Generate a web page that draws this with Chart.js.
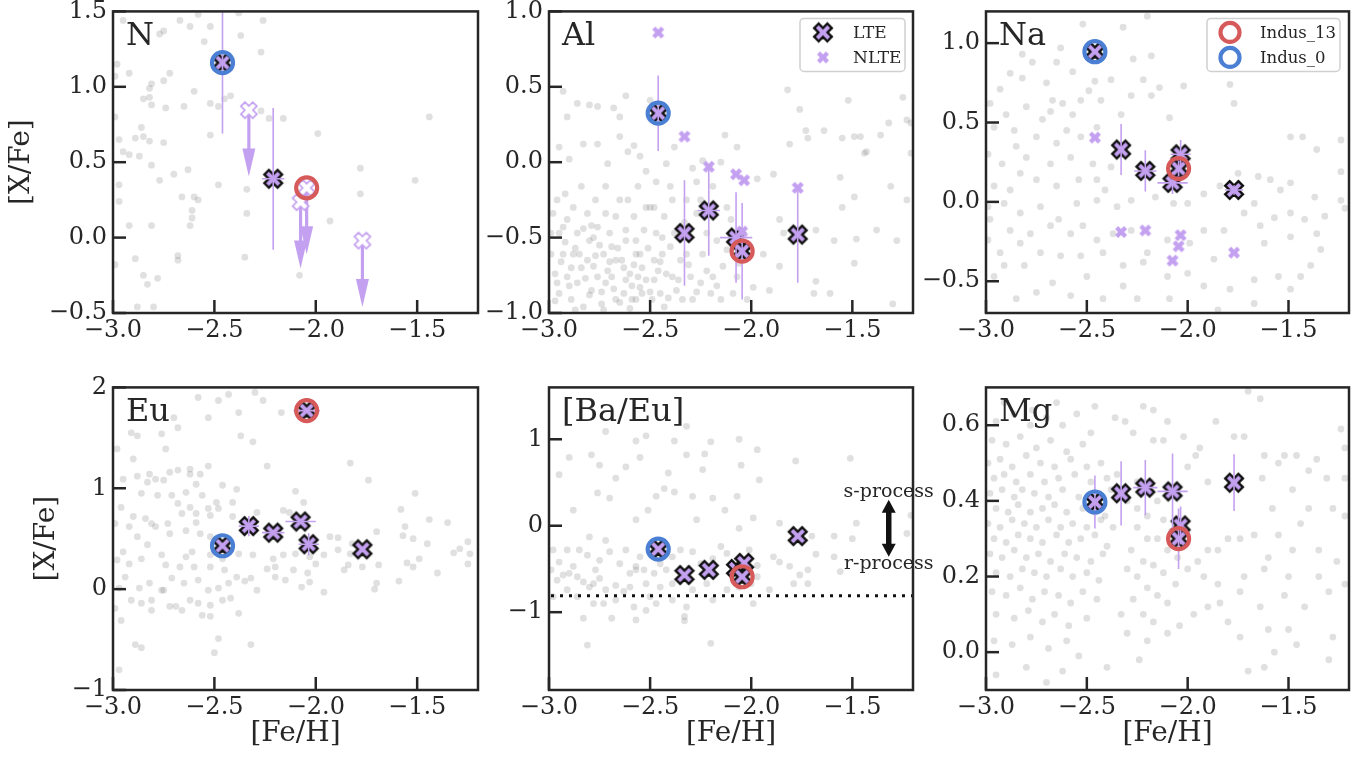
<!DOCTYPE html>
<html><head><meta charset="utf-8">
<script src="https://cdn.jsdelivr.net/npm/chart.js"></script>
<style>
html,body{margin:0;padding:0;background:#fff;width:1367px;height:759px;overflow:hidden;position:relative}
canvas{position:absolute}
</style></head><body>
<script>
// ---------------- DATA ----------------
const xTicks = [-3.0, -2.5, -2.0, -1.5];
const xTickLabels = ['\u22123.0', '\u22122.5', '\u22122.0', '\u22121.5'];

// program stars: Indus_0, S2, S3, S4, S5, Indus_13, S7
const starFeH = [-2.46, -2.33, -2.21, -2.075, -2.035, -2.045, -1.77];
const idxIndus0 = 0, idxIndus13 = 5;

// N
const N_lte  = [1.16, null, 0.39, null, null, null, null];
const N_ul   = [null, 0.845, null, 0.235, null, 0.33, -0.02];
const N_yerr = [0.47, 0, 0.47, 0, 0, 0, 0];
const N_xerr = [0, 0, 0.055, 0, 0, 0, 0];
const N_yTicks = [-0.5, 0, 0.5, 1.0, 1.5];
const N_yTickLabels = ['\u22120.5', '0.0', '0.5', '1.0', '1.5'];

// Al
const Al_lte  = [0.325, -0.47, -0.32, -0.50, null, -0.59, -0.48];
const Al_nlte = [0.86, 0.17, -0.03, -0.08, -0.12, -0.46, -0.17];
const Al_yerr = [0.25, 0.35, 0.30, 0.30, 0, 0.32, 0.32];
const Al_xerr = [0, 0, 0.055, 0.08, 0, 0, 0];
const Al_yTicks = [-1.0, -0.5, 0, 0.5, 1.0];
const Al_yTickLabels = ['\u22121.0', '\u22120.5', '0.0', '0.5', '1.0'];

// Na
const Na_lte  = [0.946, 0.33, 0.195, 0.12, 0.30, 0.21, 0.075];
const Na_nlte = [0.405, -0.19, -0.18, -0.37, -0.21, -0.28, -0.32];
const Na_yerr = [0, 0.16, 0.13, 0.07, 0.09, 0.05, 0.03];
const Na_xerr = [0, 0, 0.055, 0.075, 0.05, 0, 0.045];
const Na_yTicks = [-0.5, 0, 0.5, 1.0];
const Na_yTickLabels = ['\u22120.5', '0.0', '0.5', '1.0'];

// Eu
const Eu_lte  = [0.43, 0.625, 0.56, 0.67, 0.445, 1.77, 0.395];
const Eu_yerr = [0, 0.10, 0, 0, 0.11, 0, 0];
const Eu_xerr = [0, 0.05, 0.055, 0.075, 0.05, 0.065, 0];
const Eu_yTicks = [-1, 0, 1, 2];
const Eu_yTickLabels = ['\u22121', '0', '1', '2'];

// [Ba/Eu]
const BaEu_lte  = [-0.27, -0.57, -0.51, -0.50, -0.43, -0.59, -0.12];
const BaEu_yTicks = [-1, 0, 1];
const BaEu_yTickLabels = ['\u22121', '0', '1'];
const BaEu_rLimit = -0.81;
const BaEu_arrowX = -1.32, BaEu_arrowTop = 0.30, BaEu_arrowBottom = -0.36;
const BaEu_sText = 0.39, BaEu_rText = -0.44;

// Mg
const Mg_lte  = [0.397, 0.42, 0.435, 0.425, 0.335, 0.30, 0.448];
const Mg_yerr = [0.07, 0.085, 0.073, 0.10, 0.05, 0.08, 0.075];
const Mg_xerr = [0, 0, 0.06, 0.075, 0, 0, 0];
const Mg_yTicks = [0.0, 0.2, 0.4, 0.6];
const Mg_yTickLabels = ['0.0', '0.2', '0.4', '0.6'];

// background (literature) stars, [Fe/H], [X/Fe]
const N_bg = [[-2.95,1.44],[-2.67,1.44],[-2.62,1.40],[-2.58,1.48],[-2.52,1.40],[-2.38,1.49],[-2.26,1.44],[-2.77,1.35],[-2.75,1.37],[-2.37,1.34],[-2.55,1.30],[-2.27,1.23],[-2.98,1.15],[-2.92,1.09],[-2.72,1.09],[-2.99,1.07],[-2.75,1.04],[-2.81,1.02],[-2.82,0.99],[-2.60,0.97],[-2.85,0.92],[-2.82,0.93],[-2.45,0.92],[-2.42,0.94],[-2.81,0.88],[-2.74,0.86],[-2.65,0.87],[-2.52,0.89],[-2.48,0.87],[-2.27,0.84],[-2.99,0.80],[-2.23,0.79],[-2.16,0.79],[-1.44,0.80],[-2.86,0.73],[-2.89,0.66],[-2.85,0.67],[-2.82,0.64],[-2.75,0.63],[-2.52,0.68],[-1.99,0.69],[-2.97,0.65],[-2.95,0.57],[-2.92,0.55],[-2.87,0.54],[-2.81,0.48],[-2.70,0.42],[-2.63,0.45],[-2.77,0.38],[-2.97,0.35],[-2.48,0.35],[-2.34,0.32],[-1.78,0.46],[-1.51,0.38],[-1.78,0.29],[-2.66,0.27],[-2.60,0.27],[-2.58,0.25],[-2.97,0.24],[-2.61,0.18],[-2.61,0.13],[-2.34,0.16],[-1.93,0.11],[-2.92,0.08],[-2.81,0.08],[-2.62,0.08],[-2.89,-0.14],[-2.68,-0.12],[-2.68,-0.15],[-2.35,-0.13],[-2.99,-0.18],[-2.85,-0.25],[-2.83,-0.31],[-2.78,-0.27],[-2.08,-0.25],[-2.88,-0.46],[-2.80,-0.46]];

const Al_bg = [[-2.93,0.47],[-2.91,0.30],[-2.86,0.39],[-2.80,0.38],[-2.76,0.37],[-2.68,0.36],[-2.65,0.30],[-2.62,0.44],[-2.50,0.41],[-2.90,0.02],[-2.95,0.10],[-2.83,0.12],[-2.76,0.12],[-2.71,-0.01],[-2.65,0.17],[-2.61,0.07],[-2.58,0.11],[-2.55,0.04],[-2.52,-0.06],[-2.47,-0.13],[-2.42,-0.01],[-2.38,0.10],[-2.29,-0.04],[-2.27,-0.13],[-2.24,0.01],[-2.15,0.00],[-2.13,0.18],[-2.07,0.10],[-1.97,-0.11],[-1.89,-0.08],[-1.82,0.48],[-1.76,0.35],[-1.73,0.21],[-1.72,0.16],[-1.81,0.12],[-1.64,0.21],[-1.55,0.16],[-1.52,0.41],[-1.49,0.17],[-1.46,0.17],[-1.44,0.06],[-1.43,0.07],[-1.36,0.18],[-1.32,0.26],[-1.25,0.43],[-1.23,0.28],[-1.21,0.26],[-1.21,0.06],[-1.56,-0.10],[-1.49,-0.23],[-1.55,-0.30],[-1.31,-0.16],[-1.23,-0.25],[-1.86,-0.38],[-1.84,-0.47],[-1.68,-0.45],[-1.59,-0.52],[-1.48,-0.51],[-1.38,-0.45],[-1.28,-0.52],[-1.49,-0.67],[-1.68,-0.79],[-1.69,-0.87],[-1.61,-0.87],[-1.30,-0.94],[-1.91,-0.85],[-1.99,-0.83],[-1.86,-0.69],[-1.94,-0.61],
[-2.98,-0.34],[-2.95,-0.47],[-2.91,-0.38],[-2.88,-0.30],[-2.86,-0.47],[-2.85,-0.61],[-2.81,-0.34],[-2.80,-0.52],[-2.78,-0.69],[-2.76,-0.43],[-2.73,-0.61],[-2.72,-0.80],[-2.70,-0.47],[-2.67,-0.65],[-2.65,-0.25],[-2.63,-0.87],[-2.62,-0.52],[-2.60,-0.74],[-2.58,-0.36],[-2.57,-0.91],[-2.55,-0.61],[-2.53,-0.45],[-2.52,-0.78],[-2.50,-0.30],[-2.48,-0.65],[-2.47,-0.47],[-2.45,-0.87],[-2.43,-0.36],[-2.42,-0.74],[-2.40,-0.56],[-2.39,-0.25],[-2.37,-0.85],[-2.35,-0.65],[-2.34,-0.47],[-2.30,-0.76],[-2.27,-0.34],[-2.24,-0.61],[-2.20,-0.87],[-2.17,-0.52],[-2.14,-0.69],[-2.10,-0.38],[-2.07,-0.76],[-2.99,-0.61],[-2.97,-0.74],[-2.95,-0.87],[-2.93,-0.61],[-2.91,-0.76],[-2.89,-0.91],[-2.88,-0.61],[-2.86,-0.80],[-2.83,-0.96],[-2.81,-0.65],[-2.79,-0.85],[-2.76,-0.76],[-2.74,-0.94],[-2.72,-0.34],[-2.69,-0.76],[-2.67,-0.91],[-2.64,-0.65],[-2.62,-0.45],[-2.59,-0.91],[-2.57,-0.61],[-2.56,-0.76],[-2.54,-0.87],[-2.52,-0.30],[-2.49,-0.91],[-2.48,-0.78],[-2.44,-0.61],[-2.43,-0.96],[-2.39,-0.76],[-2.38,-0.47],[-2.34,-0.91],[-2.32,-0.61],[-2.29,-0.91],[-2.25,-0.80],[-2.22,-0.47],[-2.19,-0.76],[-2.15,-0.91],[-2.12,-0.58],[-2.09,-0.87],[-2.06,-0.67],[-2.02,-0.91],[-2.99,-0.47],[-2.96,-0.25],[-2.92,-0.21],[-2.84,-0.16],[-2.77,-0.25],[-2.72,-0.16],[-2.67,-0.36],[-2.61,-0.25],[-2.56,-0.16],[-2.48,-0.30],[-2.40,-0.16],[-2.32,-0.25],[-2.25,-0.25],[-2.19,-0.16],[-2.12,-0.30],
[-2.94,-0.66],[-2.90,-0.82],[-2.84,-0.70],[-2.80,-0.88],[-2.75,-0.55],[-2.71,-0.72],[-2.68,-0.84],[-2.66,-0.57],[-2.62,-0.78],[-2.58,-0.68],[-2.55,-0.83],[-2.51,-0.57],[-2.46,-0.72],[-2.83,-0.44],[-2.78,-0.50],[-2.92,-0.53],[-2.97,-0.92],[-2.87,-0.98],[-2.73,-0.98],[-2.60,-0.97],
[-2.96,-0.80],[-2.89,-0.70],[-2.82,-0.77],[-2.77,-0.62],[-2.74,-0.86],[-2.70,-0.66],[-2.65,-0.93],[-2.63,-0.70],[-2.59,-0.82],[-2.54,-0.70],[-2.50,-0.86],[-2.45,-0.66],[-2.41,-0.90],[-2.36,-0.78],[-2.31,-0.68],[-2.27,-0.86],[-2.22,-0.72],[-2.17,-0.82],[-2.93,-0.43],[-2.87,-0.57],[-2.79,-0.42],[-2.69,-0.56],[-2.57,-0.52],[-2.44,-0.50],[-2.33,-0.40]];

const Na_bg = [[-2.88,0.81],[-2.82,0.93],[-2.77,0.88],[-2.65,0.88],[-2.63,0.97],[-2.52,1.12],[-2.32,1.10],[-2.20,1.17],[-2.27,0.90],[-2.18,0.92],[-2.93,0.71],[-2.82,0.78],[-2.70,0.75],[-2.57,0.82],[-2.49,0.70],[-2.46,0.76],[-2.38,0.77],[-2.22,0.77],[-2.14,0.72],[-2.02,0.73],[-2.67,0.64],[-2.62,0.62],[-2.53,0.64],[-2.43,0.64],[-2.28,0.67],[-2.18,0.67],[-2.09,0.53],[-2.33,0.55],[-2.45,0.47],[-2.57,0.55],[-2.68,0.57],[-2.80,0.60],[-2.90,0.55],[-2.98,0.62],[-2.96,0.47],[-2.86,0.45],[-2.75,0.41],[-2.65,0.37],[-2.60,0.45],[-2.53,0.41],[-2.72,0.52],[-2.85,0.35],[-2.99,0.30],[-2.92,0.24],[-2.80,0.28],[-2.68,0.24],[-2.58,0.28],[-2.47,0.24],[-2.38,0.22],[-2.41,0.075],[-2.45,0.14],[-2.54,0.14],[-2.65,0.10],[-2.75,0.14],[-2.83,0.18],[-2.88,0.075],[-2.96,0.10],[-2.99,-0.03],[-2.91,-0.01],[-2.83,-0.07],[-2.73,-0.03],[-2.64,-0.11],[-2.55,-0.01],[-2.45,0.01],[-2.35,-0.03],[-2.28,0.01],[-2.16,0.03],[-2.07,-0.01],[-2.00,-0.01],[-1.92,0.05],[-1.84,0.10],[-1.75,0.18],[-1.67,-0.01],[-1.59,0.14],[-1.54,0.075],[-1.49,0.12],[-1.37,0.03],[-1.24,0.19],[-1.24,0.01],[-1.22,-0.04],[-1.32,-0.09],[-1.42,-0.11],[-1.49,-0.07],[-1.57,-0.10],[-1.64,-0.15],[-1.72,-0.07],[-1.82,-0.18],[-1.92,-0.18],[-1.99,-0.26],[-2.10,-0.24],[-2.20,-0.32],[-2.28,-0.18],[-2.37,-0.20],[-2.45,-0.24],[-2.52,-0.15],[-2.58,-0.20],[-2.68,-0.15],[-2.78,-0.20],[-2.88,-0.18],[-2.98,-0.11],[-2.99,-0.24],[-2.93,-0.32],[-2.83,-0.26],[-2.73,-0.32],[-2.63,-0.34],[-2.53,-0.34],[-2.42,-0.32],[-2.32,-0.40],[-2.22,-0.38],[-2.10,-0.47],[-2.00,-0.45],[-1.87,-0.36],[-1.62,-0.26],[-1.49,-0.22],[-1.34,-0.30],[-1.39,-0.40],[-1.55,-0.47],[-1.67,-0.49],[-1.79,-0.55],[-1.92,-0.53],[-2.09,-0.61],[-2.25,-0.61],[-2.42,-0.61],[-2.58,-0.59],[-2.75,-0.57],[-2.85,-0.61],[-2.96,-0.47],[-2.91,-0.40],[-2.81,-0.40],[-2.67,-0.51],[-2.50,-0.47],[-2.32,-0.53],[-1.24,0.39],[-1.49,0.41],[-1.43,0.41],[-1.36,0.33],[-1.79,0.74],[-1.77,0.62],[-1.65,0.16],[-1.36,-0.20],[-1.85,-0.68],[-1.67,-0.64],[-1.49,-0.55],[-1.44,-0.47]];

const Eu_bg = [[-2.58,1.90],[-2.43,1.93],[-2.30,1.95],[-2.26,1.87],[-2.48,1.87],[-2.53,1.70],[-2.38,1.75],[-2.17,1.75],[-2.70,1.70],[-2.68,1.60],[-2.91,1.55],[-2.88,1.52],[-2.76,1.54],[-2.37,1.52],[-2.31,1.46],[-2.98,1.39],[-2.74,1.39],[-2.24,1.22],[-2.53,1.22],[-1.83,1.25],[-2.90,1.29],[-2.72,1.16],[-2.68,1.18],[-2.62,1.19],[-2.62,1.14],[-2.88,1.12],[-2.82,1.14],[-2.79,1.09],[-2.75,1.08],[-2.83,1.06],[-2.59,1.04],[-2.57,1.14],[-2.46,1.03],[-2.39,0.99],[-2.10,0.97],[-1.74,1.08],[-1.51,0.95],[-2.95,1.09],[-2.86,0.95],[-2.78,0.93],[-2.71,0.93],[-2.64,0.96],[-2.56,0.93],[-2.49,0.86],[-2.41,0.86],[-2.68,0.85],[-2.62,0.81],[-2.53,0.80],[-2.48,0.80],[-2.29,0.76],[-2.16,0.78],[-2.13,0.76],[-2.06,0.86],[-2.96,0.81],[-2.90,0.72],[-2.84,0.70],[-2.81,0.65],[-2.73,0.65],[-2.66,0.75],[-2.59,0.75],[-2.52,0.73],[-2.41,0.72],[-2.36,0.65],[-2.99,0.65],[-2.92,0.62],[-2.88,0.52],[-2.79,0.62],[-2.72,0.55],[-2.64,0.58],[-2.57,0.55],[-2.52,0.52],[-2.59,0.66],[-1.58,0.79],[-1.56,0.62],[-1.44,0.69],[-1.35,0.66],[-1.93,0.52],[-1.89,0.51],[-1.70,0.57],[-1.57,0.53],[-1.52,0.50],[-1.45,0.45],[-1.32,0.36],[-1.29,0.40],[-1.25,0.47],[-1.24,0.35],[-1.82,0.45],[-1.83,0.35],[-1.89,0.39],[-1.96,0.34],[-2.03,0.32],[-2.10,0.35],[-2.16,0.34],[-2.21,0.30],[-2.31,0.34],[-2.38,0.35],[-2.46,0.30],[-2.52,0.34],[-2.61,0.37],[-2.64,0.32],[-2.76,0.34],[-2.83,0.44],[-2.95,0.37],[-2.98,0.29],[-2.92,0.25],[-2.86,0.30],[-2.74,0.24],[-2.67,0.22],[-2.60,0.22],[-2.52,0.22],[-2.45,0.19],[-2.39,0.12],[-2.32,0.11],[-2.24,0.20],[-2.20,0.22],[-2.11,0.19],[-2.04,0.16],[-2.00,0.25],[-1.86,0.19],[-1.84,0.24],[-1.77,0.22],[-1.69,0.24],[-1.55,0.26],[-1.52,0.22],[-1.49,0.30],[-1.25,0.25],[-1.40,0.16],[-1.59,0.08],[-1.70,0.06],[-1.71,0.00],[-1.96,-0.03],[-2.03,0.07],[-2.07,0.02],[-2.15,0.09],[-2.20,0.12],[-2.29,-0.01],[-2.35,0.08],[-2.43,0.06],[-2.48,0.01],[-2.53,-0.01],[-2.58,0.09],[-2.65,0.06],[-2.71,0.11],[-2.76,-0.01],[-2.82,0.06],[-2.87,0.01],[-2.94,0.12],[-2.97,0.01],[-2.91,-0.11],[-2.86,-0.14],[-2.81,-0.11],[-2.75,-0.01],[-2.69,-0.17],[-2.62,-0.11],[-2.58,-0.14],[-2.52,-0.16],[-2.46,-0.11],[-2.42,-0.09],[-2.38,-0.24],[-2.52,-0.27],[-2.56,-0.26],[-2.66,-0.21],[-2.72,-0.17],[-2.81,-0.21],[-2.99,-0.19],[-2.96,-0.31],[-2.89,-0.55],[-2.86,-0.58],[-2.48,-0.49],[-2.50,-0.63],[-2.32,-0.55],[-2.97,-0.80]];

const BaEu_bg = [[-2.72,1.09],[-2.57,0.98],[-2.52,1.04],[-2.38,0.98],[-2.20,0.97],[-2.32,1.15],[-2.06,1.00],[-2.79,0.82],[-2.90,0.79],[-2.75,0.70],[-2.67,0.55],[-2.62,0.68],[-2.55,0.79],[-2.41,0.61],[-2.32,0.82],[-2.24,0.65],[-2.23,0.83],[-2.05,0.70],[-1.97,0.88],[-1.96,0.53],[-1.78,0.75],[-1.51,0.78],[-2.95,0.59],[-2.88,0.18],[-2.76,0.38],[-2.70,0.32],[-2.57,0.07],[-2.51,0.18],[-2.47,0.34],[-2.43,0.43],[-2.38,0.39],[-2.29,0.34],[-2.27,0.07],[-2.19,0.32],[-2.13,0.18],[-2.07,0.34],[-2.06,-0.03],[-1.99,0.09],[-1.86,0.03],[-1.70,-0.12],[-1.68,-0.33],[-1.59,-0.12],[-1.50,-0.15],[-1.48,0.03],[-1.23,-0.09],[-1.21,0.12],[-2.98,-0.28],[-2.95,-0.42],[-2.91,-0.28],[-2.88,-0.47],[-2.85,-0.28],[-2.81,-0.34],[-2.80,-0.13],[-2.77,-0.51],[-2.75,-0.40],[-2.72,-0.17],[-2.70,-0.30],[-2.65,-0.44],[-2.62,-0.28],[-2.60,-0.55],[-2.57,-0.47],[-2.55,-0.36],[-2.53,-0.51],[-2.52,-0.67],[-2.48,-0.55],[-2.45,-0.44],[-2.42,-0.51],[-2.39,-0.36],[-2.35,-0.28],[-2.29,-0.30],[-2.25,-0.44],[-2.19,-0.38],[-2.15,-0.24],[-2.12,-0.32],[-2.01,-0.28],[-1.97,-0.46],[-1.89,-0.36],[-1.86,-0.42],[-1.81,-0.47],[-1.76,-0.57],[-1.72,-0.51],[-1.59,-0.36],[-1.56,-0.53],[-2.99,-0.51],[-2.96,-0.63],[-2.93,-0.57],[-2.90,-0.55],[-2.86,-0.59],[-2.83,-0.65],[-2.78,-0.67],[-2.75,-0.61],[-2.72,-0.74],[-2.67,-0.69],[-2.63,-0.76],[-2.60,-0.71],[-2.57,-0.51],[-2.50,-0.82],[-2.45,-0.71],[-2.39,-0.67],[-2.34,-0.59],[-2.29,-0.74],[-2.22,-0.67],[-2.20,-0.51],[-2.12,-0.74],[-2.06,-0.71],[-2.00,-0.67],[-1.97,-0.59],[-1.91,-0.74],[-1.79,-0.67],[-1.72,-0.67],[-2.98,-0.82],[-2.91,-0.74],[-2.86,-0.82],[-2.80,-0.71],[-2.78,-0.90],[-2.73,-0.90],[-2.67,-0.86],[-2.58,-0.94],[-2.52,-0.98],[-2.47,-0.90],[-2.39,-0.86],[-2.32,-0.94],[-2.19,-0.86],[-1.99,-0.90],[-2.83,-1.07],[-2.69,-1.07],[-2.57,-1.09],[-2.33,-1.05],[-2.33,-1.10],[-2.81,-1.38],[-2.20,-1.36]];

const Mg_bg = [[-2.77,0.64],[-2.46,0.65],[-2.22,0.65],[-2.17,0.64],[-2.36,0.62],[-2.31,0.61],[-2.10,0.61],[-1.86,0.61],[-1.70,0.69],[-1.64,0.67],[-2.27,0.58],[-2.17,0.56],[-2.12,0.56],[-2.02,0.57],[-1.77,0.57],[-1.72,0.57],[-1.24,0.59],[-1.94,0.54],[-1.62,0.52],[-1.52,0.52],[-1.46,0.52],[-1.36,0.51],[-1.55,0.50],[-1.40,0.48],[-1.22,0.54],[-1.22,0.46],[-1.31,0.46],[-1.48,0.43],[-1.63,0.46],[-1.74,0.46],[-1.90,0.45],[-2.00,0.49],[-1.96,0.52],[-1.58,0.38],[-1.40,0.38],[-1.28,0.38],[-1.22,0.36],[-1.44,0.34],[-1.55,0.31],[-1.67,0.31],[-1.74,0.30],[-1.80,0.30],[-1.85,0.27],[-1.90,0.27],[-1.95,0.24],[-1.60,0.25],[-1.48,0.27],[-1.35,0.27],[-1.26,0.24],[-1.35,0.20],[-1.50,0.20],[-1.62,0.22],[-1.72,0.20],[-1.85,0.18],[-1.92,0.20],[-2.00,0.22],[-1.84,0.13],[-1.74,0.16],[-1.64,0.12],[-1.52,0.15],[-1.42,0.12],[-1.30,0.16],[-1.22,0.18],[-1.50,0.06],[-1.60,0.06],[-1.80,0.08],[-1.90,0.12],[-1.97,0.10],[-2.04,0.07],[-1.46,0.02],[-1.74,0.04],[-1.28,0.04],[-1.70,-0.05],[-1.62,-0.04],[-1.30,-0.02],[-1.57,0.00],
[-2.30,0.40],[-2.25,0.38],[-2.20,0.36],[-2.15,0.40],[-2.12,0.35],[-2.08,0.32],[-2.25,0.33],[-2.20,0.30],[-2.15,0.30],[-2.10,0.27],[-2.05,0.25],[-2.28,0.27],[-2.22,0.24],[-2.17,0.23],[-2.12,0.21],[-2.25,0.20],[-2.30,0.22],[-2.20,0.17],[-2.15,0.15],[-2.10,0.13],[-2.27,0.14],[-2.22,0.10],[-2.17,0.08],[-2.33,0.10],[-2.30,0.05],[-2.20,0.03],[-2.24,-0.02],[-2.40,-0.04],[-2.10,0.05],[-2.06,0.18],[-2.02,0.28],[-2.25,0.45],[-2.35,0.47],[-2.05,0.42],
[-2.97,0.56],[-2.90,0.55],[-2.83,0.57],[-2.75,0.54],[-2.68,0.56],[-2.60,0.53],[-2.52,0.55],[-2.99,0.50],[-2.93,0.51],[-2.87,0.49],[-2.80,0.52],[-2.73,0.50],[-2.66,0.49],[-2.58,0.51],[-2.50,0.49],[-2.43,0.50],[-2.96,0.46],[-2.91,0.47],[-2.85,0.45],[-2.78,0.47],[-2.71,0.45],[-2.64,0.46],[-2.56,0.47],[-2.48,0.45],[-2.40,0.46],[-2.98,0.42],[-2.92,0.43],[-2.86,0.41],[-2.82,0.43],[-2.76,0.42],[-2.69,0.41],[-2.62,0.43],[-2.54,0.41],[-2.44,0.42],[-2.38,0.43],[-2.95,0.38],[-2.89,0.37],[-2.84,0.39],[-2.78,0.37],[-2.72,0.38],[-2.66,0.39],[-2.60,0.37],[-2.52,0.38],[-2.46,0.37],[-2.41,0.36],[-2.99,0.34],[-2.93,0.33],[-2.87,0.35],[-2.81,0.34],[-2.75,0.33],[-2.69,0.35],[-2.63,0.33],[-2.57,0.34],[-2.50,0.33],[-2.43,0.35],[-2.37,0.33],[-2.96,0.30],[-2.90,0.29],[-2.84,0.31],[-2.78,0.30],[-2.72,0.29],[-2.65,0.31],[-2.59,0.29],[-2.53,0.30],[-2.46,0.31],[-2.40,0.28],[-2.98,0.26],[-2.92,0.25],[-2.86,0.27],[-2.80,0.25],[-2.74,0.26],[-2.68,0.24],[-2.61,0.26],[-2.55,0.25],[-2.48,0.24],[-2.42,0.26],[-2.95,0.21],[-2.88,0.20],[-2.82,0.22],[-2.76,0.21],[-2.70,0.20],[-2.63,0.22],[-2.57,0.20],[-2.50,0.21],[-2.44,0.19],[-2.97,0.16],[-2.90,0.15],[-2.83,0.17],[-2.77,0.14],[-2.71,0.16],[-2.64,0.15],[-2.58,0.13],[-2.52,0.16],[-2.45,0.14],[-2.95,0.10],[-2.86,0.09],[-2.79,0.11],[-2.72,0.08],[-2.66,0.10],[-2.59,0.07],[-2.50,0.09],[-2.96,0.03],[-2.87,0.02],[-2.78,0.04],[-2.69,0.01],[-2.60,0.03],[-2.54,-0.01],[-2.95,-0.06],[-2.80,-0.04],[-2.70,-0.08],[-2.62,-0.05],[-2.95,0.61],[-2.86,0.63],[-2.78,0.60],[-2.70,0.62],[-2.62,0.60],[-2.55,0.63],[-2.48,0.58],[-2.91,0.66],[-2.65,0.66]];

// ---------------- STYLE / LAYOUT ----------------
const SERIF = "'DejaVu Serif', 'Liberation Serif', serif";
const INK = '#262626';
const LAV = '#c4a0f0';
const RED = '#d65a5a';
const BLUE = '#4a7fd4';
const DOT = 'rgba(100,100,100,0.2)';
const COLS = [113, 549, 986], COLW = [365, 364, 363];
const ROWS = [11, 387], ROWH = [302, 303];
const PADL = 113, PADT = 20, PADR = 32, PADB = 70;
const ARROW_LEN = 0.44, HEAD_LEN = 28, HEAD_W = 13;
Chart.defaults.font.family = SERIF;

function makeX(L, w, fill, stroke, lw) {
  const ext = Math.ceil((L + w) / Math.SQRT2 + lw) + 1;
  const c = document.createElement('canvas');
  c.width = c.height = ext * 2;
  const g = c.getContext('2d');
  g.translate(ext, ext); g.rotate(Math.PI / 4);
  const pts = [[-w,-L],[w,-L],[w,-w],[L,-w],[L,w],[w,w],[w,L],[-w,L],[-w,w],[-L,w],[-L,-w],[-w,-w]];
  g.beginPath();
  pts.forEach((p, i) => i ? g.lineTo(p[0], p[1]) : g.moveTo(p[0], p[1]));
  g.closePath();
  if (fill) { g.fillStyle = fill; g.fill(); }
  if (stroke) { g.strokeStyle = stroke; g.lineWidth = lw; g.lineJoin = 'miter'; g.stroke(); }
  return c;
}
const X_LTE = makeX(9.3, 3.2, LAV, '#111', 2.4);
const X_NLTE = makeX(6.3, 2.2, LAV, null, 0);
const X_UL = makeX(8.4, 2.9, '#ffffff', LAV, 1.7);

const panels = [
  {label:'N', col:0, row:0, yMin:-0.5, yMax:1.5, yTicks:N_yTicks, yLabels:N_yTickLabels, bg:N_bg, lte:N_lte, nlte:null, ul:N_ul, yerr:N_yerr, xerr:N_xerr},
  {label:'Al', col:1, row:0, yMin:-1.0, yMax:1.0, yTicks:Al_yTicks, yLabels:Al_yTickLabels, bg:Al_bg, lte:Al_lte, nlte:Al_nlte, ul:null, yerr:Al_yerr, xerr:Al_xerr, legend:'lte'},
  {label:'Na', col:2, row:0, yMin:-0.7, yMax:1.2, yTicks:Na_yTicks, yLabels:Na_yTickLabels, bg:Na_bg, lte:Na_lte, nlte:Na_nlte, ul:null, yerr:Na_yerr, xerr:Na_xerr, legend:'stars'},
  {label:'Eu', col:0, row:1, yMin:-1, yMax:2, yTicks:Eu_yTicks, yLabels:Eu_yTickLabels, bg:Eu_bg, lte:Eu_lte, nlte:null, ul:null, yerr:Eu_yerr, xerr:Eu_xerr},
  {label:'[Ba/Eu]', col:1, row:1, yMin:-1.9, yMax:1.6, yTicks:BaEu_yTicks, yLabels:BaEu_yTickLabels, bg:BaEu_bg, lte:BaEu_lte, nlte:null, ul:null, yerr:null, xerr:null, baeu:true},
  {label:'Mg', col:2, row:1, yMin:-0.1, yMax:0.7, yTicks:Mg_yTicks, yLabels:Mg_yTickLabels, bg:Mg_bg, lte:Mg_lte, nlte:null, ul:null, yerr:Mg_yerr, xerr:Mg_xerr}
];

function pts(xs, ys) {
  const out = [];
  ys.forEach((v, i) => { if (v !== null && v !== undefined) out.push({x: xs[i], y: v}); });
  return out;
}
function clipArea(ctx, a) {
  ctx.beginPath(); ctx.rect(a.left, a.top, a.right - a.left, a.bottom - a.top); ctx.clip();
}

function drawErr(chart, p) {
  if (!p.yerr) return;
  const {ctx, chartArea: a, scales: {x, y}} = chart;
  ctx.save(); clipArea(ctx, a);
  ctx.strokeStyle = LAV; ctx.lineWidth = 1.6;
  p.lte.forEach((v, i) => {
    if (v === null) return;
    const px = x.getPixelForValue(starFeH[i]), py = y.getPixelForValue(v);
    if (p.yerr[i] > 0) {
      ctx.beginPath();
      ctx.moveTo(px, y.getPixelForValue(v + p.yerr[i]));
      ctx.lineTo(px, y.getPixelForValue(v - p.yerr[i]));
      ctx.stroke();
    }
    if (p.xerr[i] > 0) {
      ctx.beginPath();
      ctx.moveTo(x.getPixelForValue(starFeH[i] - p.xerr[i]), py);
      ctx.lineTo(x.getPixelForValue(starFeH[i] + p.xerr[i]), py);
      ctx.stroke();
    }
  });
  ctx.restore();
}

function drawArrows(chart, p) {
  const {ctx, chartArea: a, scales: {x, y}} = chart;
  ctx.save(); clipArea(ctx, a);
  ctx.strokeStyle = LAV; ctx.fillStyle = LAV; ctx.lineWidth = 3.2;
  p.ul.forEach((v, i) => {
    if (v === null) return;
    const px = x.getPixelForValue(starFeH[i]), py = y.getPixelForValue(v);
    const tip = y.getPixelForValue(v - ARROW_LEN);
    ctx.beginPath(); ctx.moveTo(px, py); ctx.lineTo(px, tip - HEAD_LEN + 2); ctx.stroke();
    ctx.beginPath();
    ctx.moveTo(px - HEAD_W / 2, tip - HEAD_LEN);
    ctx.lineTo(px + HEAD_W / 2, tip - HEAD_LEN);
    ctx.lineTo(px, tip);
    ctx.closePath(); ctx.fill();
  });
  ctx.restore();
}

function drawFrame(chart) {
  const {ctx, chartArea: a, scales: {x, y}} = chart;
  ctx.save();
  ctx.strokeStyle = INK; ctx.lineWidth = 2.5; ctx.lineCap = 'butt';
  x.ticks.forEach(t => {
    const px = x.getPixelForValue(t.value);
    ctx.beginPath(); ctx.moveTo(px, a.bottom); ctx.lineTo(px, a.bottom - 13); ctx.stroke();
  });
  y.ticks.forEach(t => {
    const py = y.getPixelForValue(t.value);
    ctx.beginPath(); ctx.moveTo(a.left, py); ctx.lineTo(a.left + 13, py); ctx.stroke();
  });
  ctx.strokeRect(a.left, a.top, a.right - a.left, a.bottom - a.top);
  ctx.restore();
}

function ring(ctx, cx, cy, r, color) {
  ctx.beginPath(); ctx.arc(cx, cy, r, 0, Math.PI * 2);
  ctx.strokeStyle = color; ctx.lineWidth = 4.2; ctx.stroke();
}

function drawExtras(chart, p) {
  const {ctx, chartArea: a, scales: {x, y}} = chart;
  ctx.save();
  ctx.fillStyle = INK;
  ctx.font = '32px ' + SERIF;
  ctx.textAlign = 'left'; ctx.textBaseline = 'alphabetic';
  ctx.fillText(p.label, a.left + 13, a.top + 34);

  if (p.col === 0) {
    ctx.save();
    ctx.translate(p.row === 0 ? a.left - 91 : a.left - 66, (a.top + a.bottom) / 2);
    ctx.rotate(-Math.PI / 2);
    ctx.font = '28px ' + SERIF; ctx.textAlign = 'center'; ctx.textBaseline = 'middle';
    ctx.fillText('[X/Fe]', 0, 0);
    ctx.restore();
  }
  if (p.row === 1) {
    ctx.font = '28px ' + SERIF; ctx.textAlign = 'center'; ctx.textBaseline = 'middle';
    ctx.fillText('[Fe/H]', (a.left + a.right) / 2, a.bottom + 44);
  }

  if (p.legend) {
    const w = p.legend === 'lte' ? 105 : 133, h = 53;
    const bx = a.right - (p.legend === 'lte' ? 8 : 9) - w, by = a.top + 7;
    ctx.beginPath();
    ctx.roundRect(bx, by, w, h, 4);
    ctx.fillStyle = 'rgba(255,255,255,0.85)'; ctx.fill();
    ctx.strokeStyle = '#d0d0d0'; ctx.lineWidth = 1.5; ctx.stroke();
    ctx.fillStyle = INK; ctx.textAlign = 'left'; ctx.textBaseline = 'middle';
    if (p.legend === 'lte') {
      ctx.drawImage(X_LTE, bx + 23 - X_LTE.width / 2, by + 14 - X_LTE.height / 2);
      ctx.drawImage(X_NLTE, bx + 23 - X_NLTE.width / 2, by + 39 - X_NLTE.height / 2);
      ctx.font = '17px ' + SERIF;
      ctx.fillText('LTE', bx + 53, by + 15);
      ctx.fillText('NLTE', bx + 53, by + 40);
    } else {
      ring(ctx, bx + 23, by + 14, 9.5, RED);
      ring(ctx, bx + 23, by + 39, 9.5, BLUE);
      ctx.fillStyle = INK;
      ctx.font = '16.5px ' + SERIF;
      ctx.fillText('Indus_13', bx + 53, by + 15);
      ctx.fillText('Indus_0', bx + 53, by + 40);
    }
  }

  if (p.baeu) {
    const ax = x.getPixelForValue(BaEu_arrowX);
    const t = y.getPixelForValue(BaEu_arrowTop), b = y.getPixelForValue(BaEu_arrowBottom);
    ctx.fillStyle = '#111'; ctx.strokeStyle = '#111'; ctx.lineWidth = 5.5;
    ctx.beginPath(); ctx.moveTo(ax, t + 10); ctx.lineTo(ax, b - 10); ctx.stroke();
    ctx.beginPath(); ctx.moveTo(ax, t); ctx.lineTo(ax - 7, t + 13); ctx.lineTo(ax + 7, t + 13); ctx.closePath(); ctx.fill();
    ctx.beginPath(); ctx.moveTo(ax, b); ctx.lineTo(ax - 7, b - 13); ctx.lineTo(ax + 7, b - 13); ctx.closePath(); ctx.fill();
    ctx.fillStyle = INK; ctx.font = '19px ' + SERIF; ctx.textAlign = 'center'; ctx.textBaseline = 'middle';
    ctx.fillText('s-process', ax, y.getPixelForValue(BaEu_sText));
    ctx.fillText('r-process', ax, y.getPixelForValue(BaEu_rText));
  }
  ctx.restore();
}

function drawHline(chart, v) {
  const {ctx, chartArea: a, scales: {y}} = chart;
  const py = y.getPixelForValue(v);
  ctx.save();
  ctx.strokeStyle = '#111'; ctx.lineWidth = 3; ctx.setLineDash([3, 6]);
  ctx.beginPath(); ctx.moveTo(a.left + 2, py); ctx.lineTo(a.right, py); ctx.stroke();
  ctx.restore();
}

panels.forEach((p, k) => {
  const cv = document.createElement('canvas');
  const W = PADL + COLW[p.col] + PADR, H = PADT + ROWH[p.row] + PADB;
  cv.width = W; cv.height = H;
  cv.style.left = (COLS[p.col] - PADL) + 'px';
  cv.style.top = (ROWS[p.row] - PADT) + 'px';
  cv.style.width = W + 'px'; cv.style.height = H + 'px';
  document.body.appendChild(cv);

  const datasets = [];
  datasets.push({role:'bg', data: p.bg.map(q => ({x:q[0], y:q[1]})), pointRadius:3.4, pointBorderWidth:0,
    pointBackgroundColor: DOT, pointBorderColor: DOT, order: 10, clip: 0});
  datasets.push({role:'lte', data: pts(starFeH, p.lte), pointStyle: X_LTE, pointRadius: 10, order: 8});
  if (p.nlte) datasets.push({role:'nlte', data: pts(starFeH, p.nlte), pointStyle: X_NLTE, pointRadius: 7, order: 7});
  if (p.ul) datasets.push({role:'ul', data: pts(starFeH, p.ul), pointStyle: X_UL, pointRadius: 10, order: 6});
  const ringVal = i => (p.lte[i] !== null ? p.lte[i] : (p.ul ? p.ul[i] : null));
  datasets.push({role:'ring13', data: [{x: starFeH[idxIndus13], y: ringVal(idxIndus13)}], pointStyle:'circle', pointRadius:10.5,
    pointBorderWidth:4.2, pointBorderColor: RED, pointBackgroundColor:'rgba(0,0,0,0)', order: 2});
  datasets.push({role:'ring0', data: [{x: starFeH[idxIndus0], y: ringVal(idxIndus0)}], pointStyle:'circle', pointRadius:10.5,
    pointBorderWidth:4.2, pointBorderColor: BLUE, pointBackgroundColor:'rgba(0,0,0,0)', order: 1});

  const plugin = {
    id: 'panel' + k,
    beforeDatasetDraw(chart, args) {
      const ds = chart.data.datasets[args.index];
      if (ds.role === 'ul') drawArrows(chart, p);
    },
    afterDatasetDraw(chart, args) {
      const ds = chart.data.datasets[args.index];
      if (ds.role === 'bg' && p.baeu) drawHline(chart, BaEu_rLimit);
      if (ds.role === 'lte') drawErr(chart, p);
    },
    afterDatasetsDraw(chart) { drawFrame(chart); },
    afterDraw(chart) { drawExtras(chart, p); }
  };

  new Chart(cv.getContext('2d'), {
    type: 'scatter',
    data: {datasets},
    options: {
      responsive: false, animation: false, events: [], devicePixelRatio: 1,
      layout: {padding: {left: 0, top: PADT, right: PADR, bottom: 0}},
      plugins: {legend: {display: false}, tooltip: {enabled: false}},
      scales: {
        x: {
          type: 'linear', min: -3.0, max: -1.2,
          afterFit(s) { s.height = PADB; },
          afterBuildTicks(s) { s.ticks = xTicks.map(v => ({value: v})); },
          grid: {display: false, drawTicks: false}, border: {display: false},
          ticks: {callback: (v, i) => xTickLabels[i], font: {family: SERIF, size: 24}, color: INK, padding: 3, maxRotation: 0, autoSkip: false}
        },
        y: {
          type: 'linear', min: p.yMin, max: p.yMax,
          afterFit(s) { s.width = PADL; },
          afterBuildTicks(s) { s.ticks = p.yTicks.map(v => ({value: v})); },
          grid: {display: false, drawTicks: false}, border: {display: false},
          ticks: {callback: (v, i) => p.yLabels[i], font: {family: SERIF, size: 24}, color: INK, padding: 6, autoSkip: false}
        }
      }
    },
    plugins: [plugin]
  });
});
</script>
</body></html>
